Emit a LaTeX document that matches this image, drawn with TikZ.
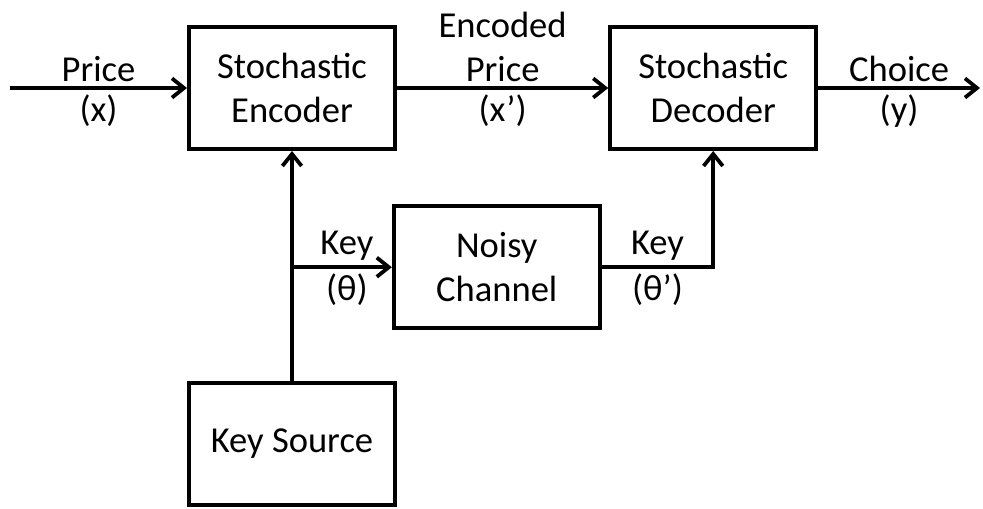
\documentclass[tikz,border=0pt]{standalone}
\usepackage{fontspec}
\setmainfont{Carlito}
\usetikzlibrary{positioning, arrows.meta, calc}
\tikzset{every picture/.append style={thick}}

\begin{document}
\begin{tikzpicture}[scale=1.0, >={Straight Barb[length=3mm,width=4.8mm]},
    block/.style={draw, line width=2.8pt, minimum width=5.15cm, minimum height=3.05cm, align=center, font=\fontsize{26}{31}\selectfont},
    sig/.style={->, line width=2.7pt},
    lbl/.style={font=\fontsize{26}{31}\selectfont, align=center}]
    \useasboundingbox (0,0) rectangle (24.575,12.7);

    % Blocks
    \node[block] (enc) at (7.3,10.5) {Stochastic\\Encoder};
    \node[block] (dec) at (17.83,10.5) {Stochastic\\Decoder};
    \node[block] (chan) at (12.42,6.02) {Noisy\\Channel};
    \node[block] (src) at (7.3,1.6) {Key Source};

    % Free ends and branch point
    \coordinate (in) at (0.25,10.5);
    \coordinate (out) at (24.5,10.5);
    \coordinate (tap) at (src.north |- chan.west);

    % Price path
    \draw[sig] (in) -- node[lbl, above] {Price} node[lbl, below] {(x)} (enc.west);
    \draw[sig] (enc.east) -- node[lbl, above] {Encoded\\Price} node[lbl, below] {(x’)} (dec.west);
    \draw[sig] (dec.east) -- node[lbl, above] {Choice} node[lbl, below] {(y)} (out);

    % Key path
    \draw[sig] (src.north) -- (enc.south);
    \draw[sig] (tap) -- node[lbl, above, pos=0.55] {Key} node[lbl, below, pos=0.55] {(θ)} (chan.west);
    \draw[sig] (chan.east) -- node[lbl, above] {Key} node[lbl, below] {(θ’)} ($(chan.east -| dec.south)$) -- (dec.south);
\end{tikzpicture}
\end{document}
